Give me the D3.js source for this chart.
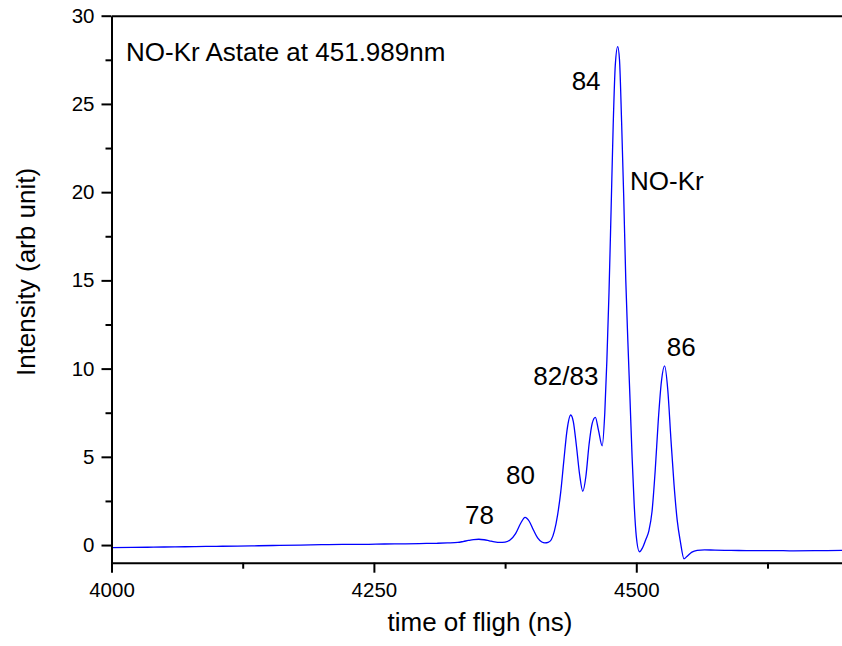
<!DOCTYPE html>
<html>
<head>
<meta charset="utf-8">
<script src="https://cdn.jsdelivr.net/npm/d3@7"></script>
<style>
  html, body { margin: 0; padding: 0; background: #fff; }
  svg { display: block; font-family: "Liberation Sans", Arial, sans-serif; }
</style>
</head>
<body>
<svg id="chart" width="842" height="646"></svg>
<script>
// ---- data ----
const tof = [4000, 4020, 4040, 4060, 4080, 4100, 4120, 4140, 4160, 4180, 4200, 4220, 4240, 4260, 4280, 4300,
  4310, 4320, 4330, 4335, 4340, 4345, 4350, 4355, 4360, 4365, 4370, 4375, 4380, 4385, 4390, 4394, 4398,
  4402, 4406, 4410, 4413, 4416, 4419, 4422, 4425, 4428, 4431, 4434, 4437.5, 4440, 4443, 4446, 4449, 4452,
  4455, 4458, 4461, 4464, 4467.5, 4470, 4472, 4474, 4476, 4478, 4480, 4482.3, 4484, 4486, 4488, 4490, 4492,
  4494, 4496, 4498, 4500, 4503, 4506, 4509, 4512, 4515, 4518, 4521, 4524, 4527, 4530, 4533, 4536, 4539,
  4542, 4545.5, 4549, 4553, 4558, 4565, 4575, 4590, 4610, 4630, 4650, 4670, 4700];
const intensity = [-0.15, -0.13, -0.12, -0.10, -0.09, -0.07, -0.06, -0.04, -0.02, 0.00, 0.02, 0.04, 0.04, 0.06, 0.07, 0.09,
  0.10, 0.12, 0.15, 0.20, 0.26, 0.31, 0.33, 0.30, 0.24, 0.18, 0.15, 0.17, 0.30, 0.65, 1.25, 1.57, 1.35,
  0.85, 0.40, 0.17, 0.12, 0.15, 0.30, 0.80, 1.7, 3.0, 4.8, 6.5, 7.37, 7.0, 5.6, 4.0, 3.05, 3.9,
  5.7, 6.9, 7.24, 6.5, 5.62, 7.5, 10.5, 14.3, 19.0, 23.8, 27.2, 28.25, 27.5, 24.0, 19.8, 15.0, 11.5,
  8.3, 5.0, 2.3, 0.5, -0.38, -0.15, 0.3, 0.8, 1.9, 4.2, 7.1, 9.3, 10.15, 8.8, 6.0, 3.4, 1.4,
  0.2, -0.78, -0.6, -0.4, -0.3, -0.27, -0.29, -0.30, -0.32, -0.31, -0.33, -0.32, -0.30];

const xMajorTicks = [4000, 4250, 4500];
const xMinorTicks = [4125, 4375, 4625];
const yMajorTicks = [0, 5, 10, 15, 20, 25, 30];
const yMinorTicks = [2.5, 7.5, 12.5, 17.5, 22.5, 27.5];

const labelTexts = ["NO-Kr Astate at 451.989nm", "84", "NO-Kr", "86", "82/83", "80", "78"];
const labelX = [4013.8, 4438.4, 4494.0, 4529.0, 4401.9, 4375.9, 4336.8];
const labelY = [27.43, 25.79, 20.12, 10.71, 9.07, 3.46, 1.19];

const xTitle = "time of fligh (ns)";
const yTitle = "Intensity (arb unit)";

// ---- layout ----
const svg = d3.select("#chart");
const mLeft = 111.5, mRight = 846.2, mTop = 15.7, mBottom = 562.7;
const x = d3.scaleLinear().domain([4000, 4700]).range([mLeft, mRight]);
const y = d3.scaleLinear().domain([-1, 30]).range([mBottom, mTop]);

svg.append("defs").append("clipPath").attr("id", "plotclip")
  .append("rect").attr("x", mLeft).attr("y", mTop).attr("width", mRight - mLeft).attr("height", mBottom - mTop);

// data line
const pts = tof.map((t, i) => [t, intensity[i]]);
const line = d3.line().x(d => x(d[0])).y(d => y(d[1])).curve(d3.curveMonotoneX);
svg.append("path").datum(pts)
  .attr("clip-path", "url(#plotclip)")
  .attr("d", line)
  .attr("fill", "none")
  .attr("stroke", "#0000ff")
  .attr("stroke-width", 1.3);

// axes
function styleAxis(g) {
  g.selectAll("path.domain").attr("stroke", "#000").attr("stroke-width", 2);
  g.selectAll(".tick line").attr("stroke", "#000").attr("stroke-width", 2);
  g.selectAll(".tick text").attr("fill", "#000").style("font-size", "20.5px")
    .style("font-family", "'Liberation Sans', Arial, sans-serif");
}

const gx = svg.append("g").attr("transform", `translate(0,${mBottom})`)
  .call(d3.axisBottom(x).tickValues(xMajorTicks).tickFormat(d3.format("d")).tickSize(10).tickSizeOuter(0).tickPadding(10));
styleAxis(gx);
const gxm = svg.append("g").attr("transform", `translate(0,${mBottom})`)
  .call(d3.axisBottom(x).tickValues(xMinorTicks).tickFormat("").tickSize(6).tickSizeOuter(0));
styleAxis(gxm);
gxm.select("path.domain").remove();

const gy = svg.append("g").attr("transform", `translate(${mLeft},0)`)
  .call(d3.axisLeft(y).tickValues(yMajorTicks).tickFormat(d3.format("d")).tickSize(10).tickSizeOuter(0).tickPadding(7));
styleAxis(gy);
const gym = svg.append("g").attr("transform", `translate(${mLeft},0)`)
  .call(d3.axisLeft(y).tickValues(yMinorTicks).tickFormat("").tickSize(6).tickSizeOuter(0));
styleAxis(gym);
gym.select("path.domain").remove();

const gt = svg.append("g").attr("transform", `translate(0,${mTop})`)
  .call(d3.axisTop(x).tickValues([]).tickSizeOuter(0));
styleAxis(gt);

// axis titles
svg.append("text")
  .attr("x", 480).attr("y", 631)
  .attr("text-anchor", "middle")
  .style("font-size", "26px").attr("fill", "#000")
  .text(xTitle);
svg.append("text")
  .attr("transform", `translate(35,272) rotate(-90)`)
  .attr("text-anchor", "middle")
  .style("font-size", "26px").attr("fill", "#000")
  .text(yTitle);

// annotations
svg.append("g").selectAll("text").data(labelTexts).join("text")
  .attr("x", (d, i) => x(labelX[i]))
  .attr("y", (d, i) => y(labelY[i]))
  .style("font-size", "26px").attr("fill", "#000")
  .text(d => d);
</script>
</body>
</html>
